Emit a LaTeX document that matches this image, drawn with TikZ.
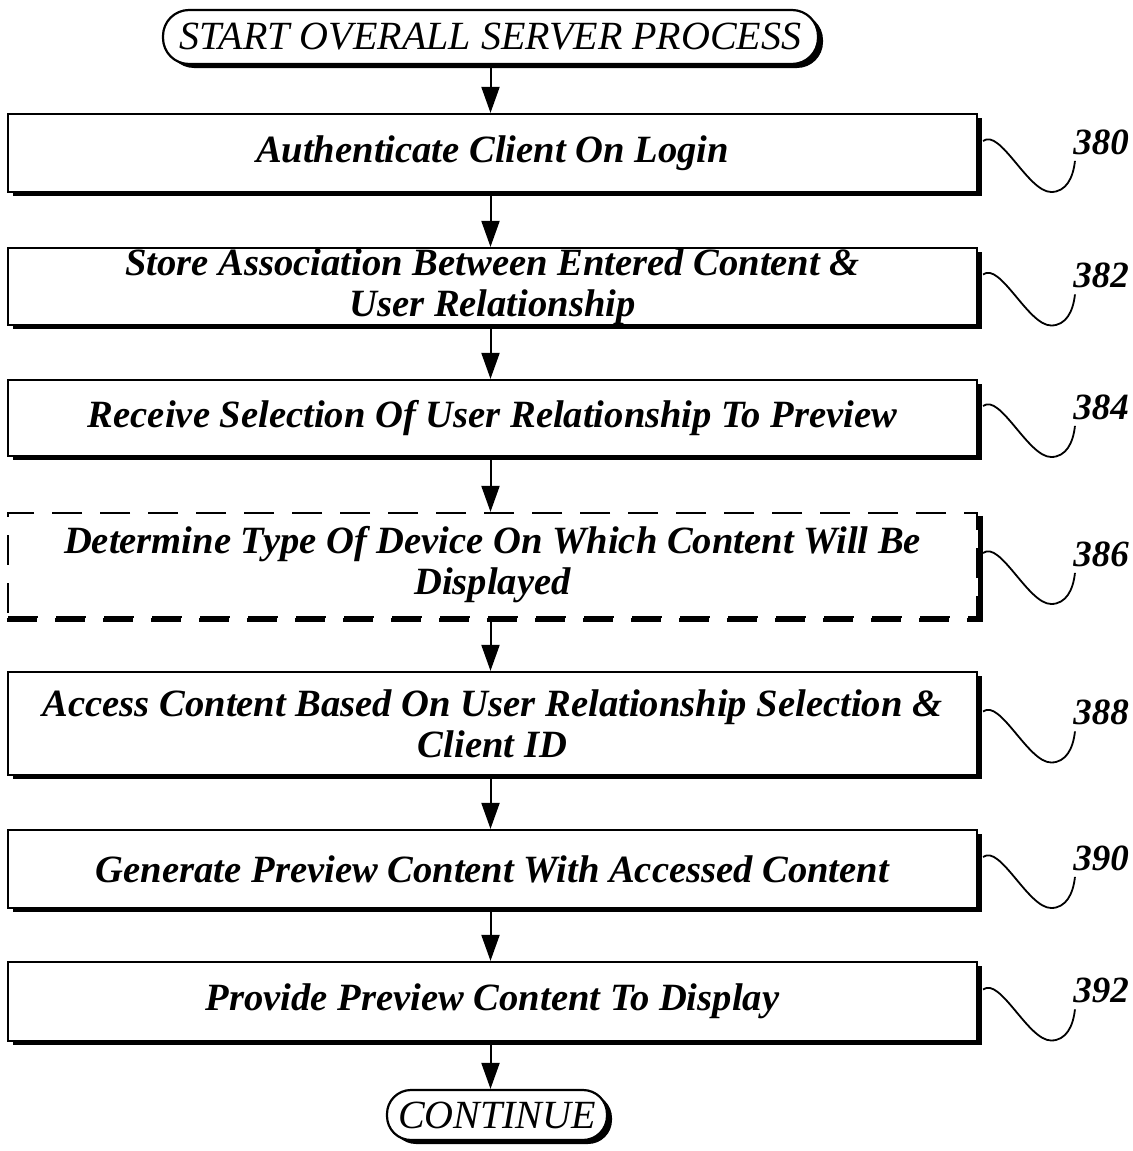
\documentclass[tikz,border=0pt]{standalone}
\usepackage{fontspec}
\setmainfont{Liberation Serif}
\usetikzlibrary{shadows,arrows.meta,calc}
\newcommand\refsq[2]{%
  \node[lab] (l#2) at ($(#1.east)+(123,-11)$) {#2};
  \draw[squig] ($(#1.east)+(5,-12)$) .. controls ($(#1.east)+(22,-25)$) and ($(#1.east)+(50,39)$) .. ($(#1.east)+(73,39)$)
     .. controls ($(#1.east)+(88,39)$) and ($(#1.east)+(95,25)$) .. ($(l#2.south west)+(2,6)$);
}
\begin{document}
\begin{tikzpicture}[x=0.5pt,y=-0.5pt,
 shad/.style={drop shadow={shadow xshift=2.5pt,shadow yshift=-2pt,opacity=1,fill=black}},
 box/.style={draw, line width=1.1pt, fill=white, minimum width=484.5pt, inner sep=0pt, align=center,
   font=\fontsize{19.3}{20.5}\selectfont\bfseries\itshape},
 term/.style={draw, line width=1.1pt, fill=white, rounded corners=13pt, inner sep=0pt,
   font=\fontsize{20}{24}\selectfont\itshape, shad},
 arr/.style={line width=1pt, -{Triangle[width=9pt,length=13pt]}},
 squig/.style={line width=0.9pt},
 lab/.style={font=\fontsize{18.5}{20}\selectfont\bfseries\itshape, inner sep=0pt}
]
\useasboundingbox (0,0) rectangle (1133,1151);

\node[term, minimum width=327.5pt, minimum height=27pt] (start) at (490.5,37) {START OVERALL SERVER PROCESS};

\node[box, shad, minimum height=39pt] (b380) at (492.5,153) {Authenticate Client On Login};
\node[box, shad, minimum height=38.5pt] (b382) at (492.5,286.5) {Store Association Between Entered Content \&\\User Relationship};
\node[box, shad, minimum height=38pt] (b384) at (492.5,418) {Receive Selection Of User Relationship To Preview};
\node[box, dash pattern=on 15pt off 9pt, minimum height=52pt] (b386) at (492.5,565) {Determine Type Of Device On Which Content Will Be\\Displayed};
\draw[line width=2pt, dash pattern=on 15pt off 9pt] ([yshift=-1pt]b386.south west) -- ([xshift=2.5pt,yshift=-1pt]b386.south east);
\draw[line width=2.4pt] ([xshift=1.2pt,yshift=-2pt]b386.north east) -- ([xshift=1.2pt,yshift=-2pt]b386.south east);
\node[box, shad, minimum height=51.5pt] (b388) at (492.5,723.5) {Access Content Based On User Relationship Selection \&\\Client ID};
\node[box, shad, minimum height=39pt] (b390) at (492.5,869) {Generate Preview Content With Accessed Content};
\node[box, shad, minimum height=39.5pt] (b392) at (492.5,1001.5) {Provide Preview Content To Display};

\node[term, minimum width=110pt, minimum height=25pt, rounded corners=12pt] (cont) at (497,1115) {CONTINUE};

\draw[arr] (start.south) -- (start.south |- b380.north);
\draw[arr] (b380.south -| start.south) -- (b382.north -| start.south);
\draw[arr] (b382.south -| start.south) -- (b384.north -| start.south);
\draw[arr] (b384.south -| start.south) -- (b386.north -| start.south);
\draw[arr] (b386.south -| start.south) -- (b388.north -| start.south);
\draw[arr] (b388.south -| start.south) -- (b390.north -| start.south);
\draw[arr] (b390.south -| start.south) -- (b392.north -| start.south);
\draw[arr] (b392.south -| start.south) -- (cont.north -| start.south);

\refsq{b380}{380}
\refsq{b382}{382}
\refsq{b384}{384}
\refsq{b386}{386}
\refsq{b388}{388}
\refsq{b390}{390}
\refsq{b392}{392}
\end{tikzpicture}
\end{document}
